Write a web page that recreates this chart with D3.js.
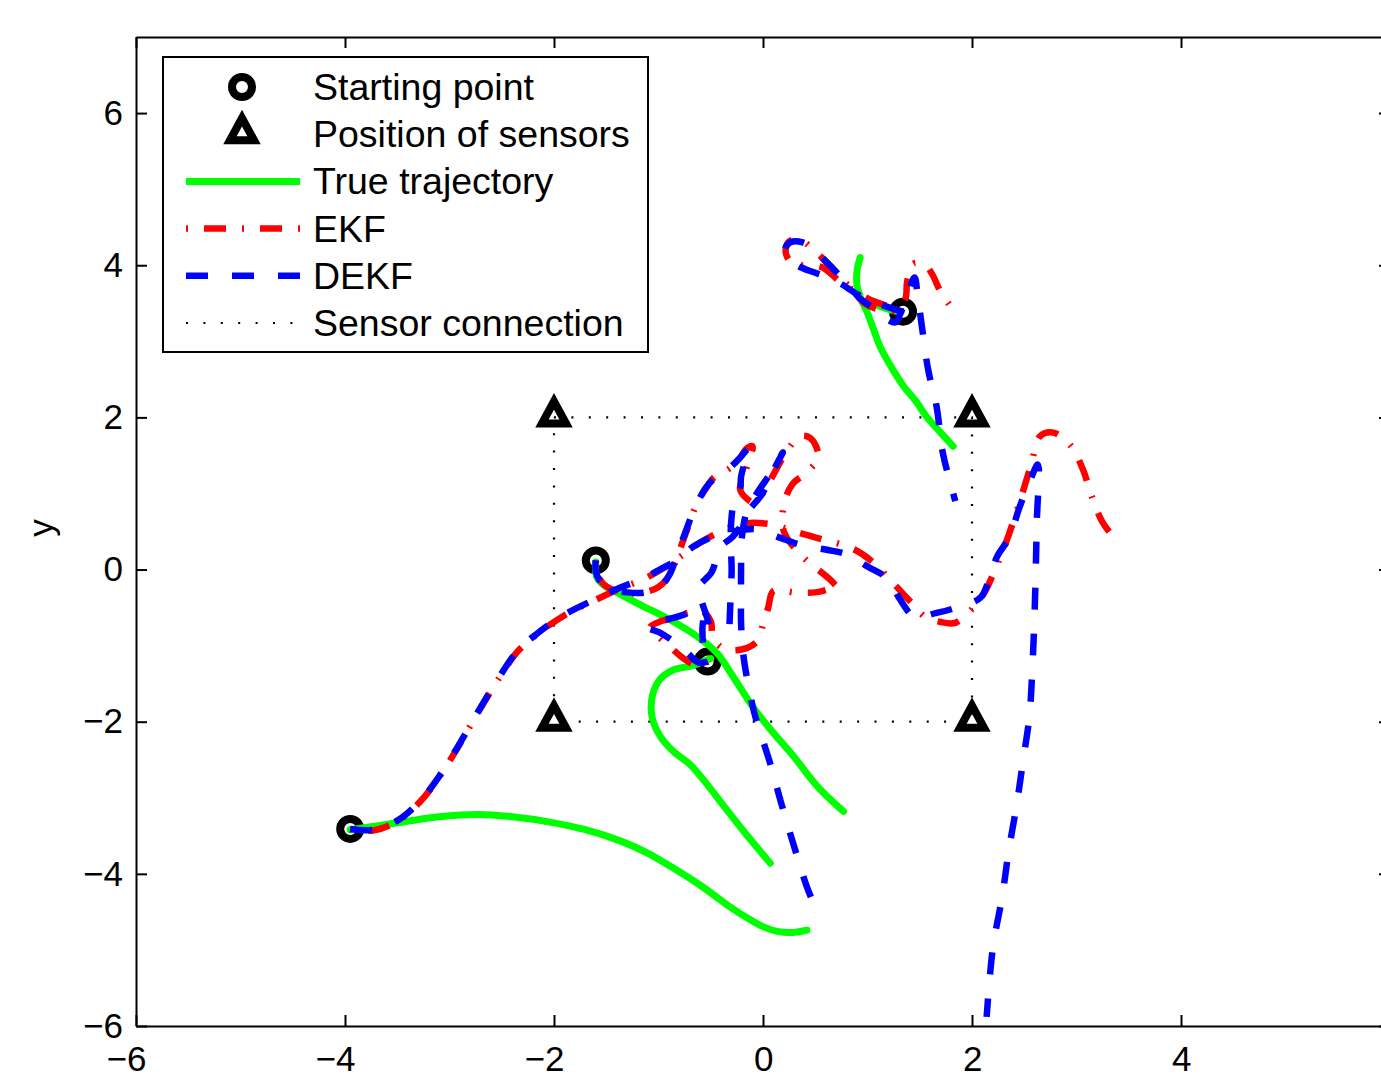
<!DOCTYPE html>
<html><head><meta charset="utf-8">
<script src="https://cdn.jsdelivr.net/npm/d3@7"></script>
<style>body{margin:0;background:#fff}svg{display:block}</style>
</head><body><svg id="c" width="1381" height="1088"></svg>
<script>
const xTicks = [-6,-4,-2,0,2,4,6];
const xTickLabels = [-6,-4,-2,0,2,4];
const yTicks = [-6,-4,-2,0,2,4,6];
const legendLabels = ["Starting point","Position of sensors","True trajectory","EKF","DEKF","Sensor connection"];
const startPoints = [[-3.95,-3.41],[-1.6,0.12],[-0.53,-1.21],[1.34,3.39]];
const sensorPos = [[-2,2],[2,2],[-2,-2],[2,-2]];
const sensorLinks = [[-2,2],[2,2],[2,-2],[-2,-2],[-2,2]];

const trueTraj1 = [[-3.95,-3.42],[-3.7,-3.37],[-3.41,-3.31],[-3.1,-3.25],[-2.72,-3.22],[-2.4,-3.25],[-2.04,-3.32],[-1.7,-3.42],[-1.36,-3.57],[-1.1,-3.73],[-0.84,-3.94],[-0.6,-4.15],[-0.33,-4.42],[-0.15,-4.58],[0.01,-4.7],[0.15,-4.76],[0.29,-4.77],[0.42,-4.74]];
const trueTraj2 = [[-1.6,0.1],[-1.59,-0.1],[-1.52,-0.21],[-1.4,-0.3],[-1.15,-0.48],[-0.89,-0.66],[-0.63,-0.88],[-0.44,-1.1],[-0.29,-1.4],[-0.1,-1.8],[0.1,-2.15],[0.29,-2.45],[0.52,-2.85],[0.77,-3.18]];
const trueTraj3 = [[-0.5,-1.17],[-0.67,-1.26],[-0.86,-1.32],[-0.99,-1.45],[-1.06,-1.67],[-1.06,-1.95],[-0.98,-2.2],[-0.85,-2.4],[-0.7,-2.56],[-0.52,-2.85],[-0.38,-3.1],[-0.15,-3.5],[0.07,-3.86]];
const trueTraj4 = [[0.93,4.1],[0.9,3.93],[0.9,3.73],[0.94,3.55],[1.0,3.37],[1.06,3.15],[1.12,2.93],[1.22,2.68],[1.34,2.42],[1.47,2.2],[1.57,2.0],[1.7,1.8],[1.82,1.62]];
const trueTraj4Start = [[1.32,3.38],[1.16,3.44],[1.0,3.53]];

const ekf1 = [[-3.95,-3.41],[-3.73,-3.43],[-3.5,-3.31],[-3.28,-3.05],[-3.09,-2.71],[-2.93,-2.36],[-2.74,-1.91],[-2.55,-1.48],[-2.35,-1.08],[-2.16,-0.85],[-1.91,-0.61],[-1.59,-0.39],[-1.37,-0.25],[-1.15,-0.13],[-0.95,0.02],[-0.8,0.16],[-0.63,0.33],[-0.45,0.47],[-0.2,0.6],[0.05,0.6],[0.3,0.5],[0.56,0.4],[0.85,0.28],[1.05,0.1],[1.24,-0.17],[1.41,-0.42],[1.55,-0.62],[1.7,-0.69],[1.84,-0.7],[2.0,-0.52],[2.12,-0.3],[2.25,0.1],[2.35,0.45],[2.47,0.95],[2.57,1.4],[2.65,1.75],[2.78,1.8],[2.95,1.62],[3.06,1.32],[3.15,0.95],[3.25,0.62],[3.4,0.35]];
const ekf2 = [[-1.6,0.12],[-1.58,-0.08],[-1.5,-0.22],[-1.35,-0.3],[-1.18,-0.31],[-1.0,-0.23],[-0.9,-0.08],[-0.84,0.1],[-0.78,0.32],[-0.72,0.55],[-0.66,0.78],[-0.6,0.95],[-0.53,1.1],[-0.47,1.21],[-0.38,1.28],[-0.3,1.35],[-0.22,1.47],[-0.15,1.6],[-0.1,1.62],[-0.13,1.45],[-0.18,1.25],[-0.22,1.06],[-0.17,0.95],[-0.08,0.88],[0.02,1.05],[0.12,1.3],[0.25,1.6],[0.35,1.75],[0.45,1.73],[0.53,1.48],[0.42,1.28],[0.28,1.12],[0.2,0.85],[0.2,0.5],[0.38,0.17],[0.64,-0.13],[0.78,-0.33]];
const ekf3 = [[-0.53,-1.21],[-0.62,-1.27],[-0.75,-1.18],[-0.88,-1.03],[-1.0,-0.88],[-1.08,-0.76],[-0.98,-0.68],[-0.86,-0.64],[-0.72,-0.57],[-0.58,-0.55],[-0.5,-0.68],[-0.48,-0.88],[-0.4,-1.02],[-0.25,-1.06],[-0.06,-0.95],[0.0,-0.72],[0.05,-0.5],[0.1,-0.28],[0.3,-0.3],[0.5,-0.3],[0.6,-0.27]];
const ekf4 = [[1.34,3.39],[1.2,3.46],[1.02,3.55],[0.88,3.66],[0.74,3.78],[0.57,3.97],[0.42,4.0],[0.3,4.0],[0.22,4.15],[0.24,4.3],[0.35,4.34],[0.47,4.22],[0.6,4.05],[0.72,3.88],[0.85,3.68],[0.97,3.5],[1.1,3.42],[1.25,3.4],[1.36,3.55],[1.38,3.79],[1.44,4.02],[1.55,4.0],[1.62,3.88],[1.7,3.65],[1.84,3.38]];

const dekf1 = [[-3.95,-3.41],[-3.73,-3.42],[-3.5,-3.3],[-3.28,-3.04],[-3.09,-2.7],[-2.93,-2.35],[-2.74,-1.9],[-2.55,-1.47],[-2.35,-1.07],[-2.16,-0.84],[-1.91,-0.6],[-1.59,-0.38],[-1.37,-0.24],[-1.15,-0.12],[-0.95,0.03],[-0.82,0.12],[-0.67,0.3],[-0.48,0.43],[-0.29,0.5],[-0.06,0.53],[0.16,0.42],[0.37,0.32],[0.61,0.26],[0.8,0.2],[1.0,0.04],[1.2,-0.13],[1.31,-0.39],[1.45,-0.62],[1.66,-0.57],[1.85,-0.5],[2.08,-0.37],[2.17,-0.1],[2.24,0.17],[2.36,0.43],[2.45,0.8],[2.55,1.15],[2.63,1.38],[2.62,0.62],[2.6,-0.53],[2.58,-1.22],[2.55,-1.92],[2.49,-2.5],[2.43,-3.07],[2.35,-3.71],[2.29,-4.29],[2.2,-4.97],[2.14,-5.88]];
const dekf2 = [[-1.6,0.12],[-1.6,-0.02],[-1.56,-0.15],[-1.45,-0.25],[-1.3,-0.3],[-1.12,-0.3],[-0.98,-0.22],[-0.9,-0.08],[-0.85,0.08],[-0.8,0.28],[-0.74,0.5],[-0.68,0.72],[-0.62,0.9],[-0.55,1.07],[-0.48,1.18],[-0.4,1.25],[-0.3,1.36],[-0.22,1.47],[-0.15,1.58],[-0.12,1.6],[-0.17,1.42],[-0.21,1.22],[-0.22,1.05],[-0.27,0.95],[-0.3,0.7],[-0.31,0.4],[-0.3,0.0],[-0.31,-0.35],[-0.32,-0.7],[-0.33,-0.96]];
const dekf3 = [[-0.53,-1.21],[-0.62,-1.22],[-0.72,-1.1],[-0.85,-0.95],[-1.0,-0.82],[-1.1,-0.76],[-1.05,-0.68],[-0.9,-0.65],[-0.77,-0.6],[-0.65,-0.53],[-0.58,-0.6],[-0.58,-0.8],[-0.57,-0.99],[-0.52,-0.75],[-0.58,-0.45],[-0.63,-0.26],[-0.49,-0.03],[-0.41,0.29],[-0.29,0.43],[-0.2,0.6],[-0.15,0.75],[-0.01,0.99],[0.08,1.25],[0.19,1.54],[0.08,1.28],[-0.05,1.02],[-0.15,0.78],[-0.2,0.45],[-0.21,0.0],[-0.21,-0.35],[-0.21,-0.7],[-0.19,-1.1],[-0.15,-1.45],[-0.08,-1.9],[0.0,-2.25],[0.08,-2.6],[0.17,-3.05],[0.3,-3.65],[0.42,-4.17],[0.51,-4.47]];
const dekf4 = [[1.34,3.39],[1.22,3.44],[1.05,3.52],[0.9,3.62],[0.74,3.76],[0.6,3.85],[0.48,3.91],[0.35,3.98],[0.27,4.05],[0.21,4.2],[0.26,4.3],[0.38,4.3],[0.48,4.22],[0.58,4.08],[0.68,3.94],[0.8,3.76],[0.93,3.56],[1.05,3.44],[1.15,3.32],[1.27,3.25],[1.31,3.35],[1.38,3.6],[1.45,3.84],[1.48,3.6],[1.52,3.2],[1.58,2.63],[1.66,2.15],[1.72,1.54],[1.78,1.2],[1.84,0.9]];

const trueSeries = [trueTraj1, trueTraj2, trueTraj3, trueTraj4, trueTraj4Start];
const ekfSeries = [ekf1, ekf2, ekf3, ekf4];
const dekfSeries = [dekf1, dekf2, dekf3, dekf4];

const GREEN = "#00ff00", RED = "#ff0000", BLUE = "#0000ff";
const FONT = "'Liberation Sans', Arial, Helvetica, sans-serif";
const LW = 6.5;
const DASH_EKF = "2,16,22,16";
const DASH_DEKF = "22,24";
const DASH_DOT = "2,15.4";

const svg = d3.select("#c");
const x = d3.scaleLinear().domain([-6, 6]).range([136, 1390]);
const y = d3.scaleLinear().domain([-6, 7]).range([1026, 37]);
const smooth = d3.line().x(d => x(d[0])).y(d => y(d[1])).curve(d3.curveCatmullRom.alpha(0.5));
const straight = d3.line().x(d => x(d[0])).y(d => y(d[1]));

svg.append("rect").attr("width", 1381).attr("height", 1088).attr("fill", "#fff");

svg.append("path").attr("d", straight(sensorLinks)).attr("fill", "none")
  .attr("stroke", "#000").attr("stroke-width", 2.2).attr("stroke-dasharray", DASH_DOT);

const triPath = "M0,-16 L12,6 L-12,6 Z";
svg.selectAll(".sensor").data(sensorPos).join("path").attr("class", "sensor")
  .attr("d", triPath).attr("transform", d => `translate(${x(d[0])},${y(d[1])})`)
  .attr("fill", "none").attr("stroke", "#000").attr("stroke-width", 8).attr("stroke-linejoin", "miter");

svg.selectAll(".start").data(startPoints).join("circle").attr("class", "start")
  .attr("cx", d => x(d[0])).attr("cy", d => y(d[1])).attr("r", 10)
  .attr("fill", "none").attr("stroke", "#000").attr("stroke-width", 8);

svg.selectAll(".truth").data(trueSeries).join("path").attr("class", "truth")
  .attr("d", smooth).attr("fill", "none").attr("stroke", GREEN).attr("stroke-width", 7)
  .attr("stroke-linecap", "round").attr("stroke-linejoin", "round");

svg.selectAll(".ekf").data(ekfSeries).join("path").attr("class", "ekf")
  .attr("d", smooth).attr("fill", "none").attr("stroke", RED).attr("stroke-width", LW)
  .attr("stroke-dasharray", DASH_EKF).attr("stroke-linejoin", "round");

svg.selectAll(".dekf").data(dekfSeries).join("path").attr("class", "dekf")
  .attr("d", smooth).attr("fill", "none").attr("stroke", BLUE).attr("stroke-width", LW)
  .attr("stroke-dasharray", DASH_DEKF).attr("stroke-linejoin", "round");

function styleAxis(g) {
  g.attr("font-family", FONT).attr("font-size", 35);
  g.select(".domain").attr("stroke", "#000").attr("stroke-width", 2);
  g.selectAll(".tick line").attr("stroke", "#000").attr("stroke-width", 2);
  g.selectAll(".tick text").attr("fill", "#000");
}
const fmt = d3.format("d");
const fmtX = d => xTickLabels.includes(d) ? fmt(d) : "";
const gB = svg.append("g").attr("transform", `translate(0,${y(-6)})`)
  .call(d3.axisBottom(x).tickValues(xTicks).tickSizeInner(-11).tickSizeOuter(0).tickPadding(20).tickFormat(fmtX));
styleAxis(gB);
gB.selectAll(".tick text").attr("text-anchor", "end").attr("x", 10);
const gT = svg.append("g").attr("transform", `translate(0,${y(7)})`)
  .call(d3.axisTop(x).tickValues(xTicks).tickSizeInner(-11).tickSizeOuter(0).tickFormat(""));
styleAxis(gT);
const gL = svg.append("g").attr("transform", `translate(${x(-6)},0)`)
  .call(d3.axisLeft(y).tickValues(yTicks).tickSizeInner(-11).tickSizeOuter(0).tickPadding(13).tickFormat(fmt));
styleAxis(gL);
const gR = svg.append("g").attr("transform", `translate(${x(6)},0)`)
  .call(d3.axisRight(y).tickValues(yTicks).tickSizeInner(-11).tickSizeOuter(0).tickFormat(""));
styleAxis(gR);

svg.append("text").attr("transform", "translate(53,528) rotate(-90)")
  .attr("text-anchor", "middle").attr("font-family", FONT).attr("font-size", 35).text("y");

const lg = svg.append("g");
lg.append("rect").attr("x", 163).attr("y", 57).attr("width", 485).attr("height", 295)
  .attr("fill", "#fff").attr("stroke", "#000").attr("stroke-width", 2);
const rowY = i => 87 + i * 47.2;
lg.append("circle").attr("cx", 242).attr("cy", rowY(0)).attr("r", 10)
  .attr("fill", "none").attr("stroke", "#000").attr("stroke-width", 8);
lg.append("path").attr("d", triPath).attr("transform", `translate(242,${rowY(1)})`)
  .attr("fill", "none").attr("stroke", "#000").attr("stroke-width", 8);
const legLines = [
  {i: 2, c: GREEN, dash: null, w: 7},
  {i: 3, c: RED, dash: DASH_EKF, w: LW},
  {i: 4, c: BLUE, dash: DASH_DEKF, w: LW},
  {i: 5, c: "#000", dash: DASH_DOT, w: 2.2}
];
legLines.forEach(l => {
  const p = lg.append("line").attr("x1", 186).attr("x2", 300).attr("y1", rowY(l.i)).attr("y2", rowY(l.i))
    .attr("stroke", l.c).attr("stroke-width", l.w);
  if (l.dash) p.attr("stroke-dasharray", l.dash);
});
lg.selectAll(".lt").data(legendLabels).join("text").attr("class", "lt")
  .attr("x", 313).attr("y", (d, i) => rowY(i) + 13)
  .attr("font-family", FONT).attr("font-size", 37.5).attr("fill", "#000").text(d => d);
</script></body></html>
